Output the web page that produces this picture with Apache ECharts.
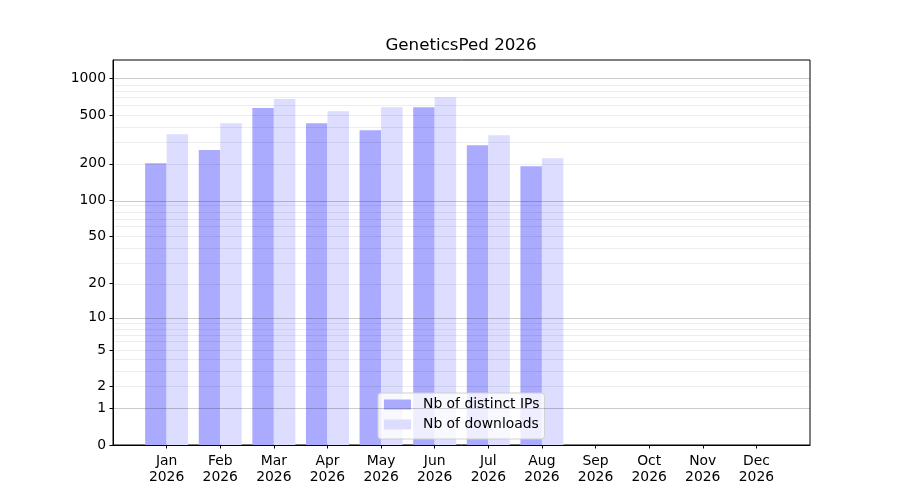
<!DOCTYPE html>
<html>
<head>
<meta charset="utf-8">
<script src="https://cdn.jsdelivr.net/npm/echarts@6/dist/echarts.min.js"></script>
<style>
  html, body { margin: 0; padding: 0; background: #fff; }
  #chart { width: 900px; height: 500px; }
</style>
</head>
<body>
<div id="chart"></div>
<script>
const months = ['Jan', 'Feb', 'Mar', 'Apr', 'May', 'Jun', 'Jul', 'Aug', 'Sep', 'Oct', 'Nov', 'Dec'];
const year = '2026';
const distinctIPs = [202, 259, 575, 431, 377, 583, 284, 191];
const downloads = [350, 431, 681, 540, 583, 704, 343, 222];
const yTicks = [0, 1, 2, 5, 10, 20, 50, 100, 200, 500, 1000];
const majorGrid = [1, 10, 100, 1000];
const minorGrid = [2, 3, 4, 5, 6, 7, 8, 9, 20, 30, 40, 50, 60, 70, 80, 90, 200, 300, 400, 500, 600, 700, 800, 900];

// axis is log10(1 + v)
const tf = v => Math.log10(1 + v);
const font = 'DejaVu Sans';

const gridLines = majorGrid.map(v => ({ yAxis: tf(v), lineStyle: { color: 'rgba(0,0,0,0.2)' } }))
    .concat(minorGrid.map(v => ({ yAxis: tf(v), lineStyle: { color: 'rgba(0,0,0,0.07)' } })));

const initChart = () => {
    const myChart = echarts.init(document.getElementById('chart'));
    myChart.setOption({
        animation: false,
        title: {
            text: 'GeneticsPed ' + year,
            left: 461, top: 37, textAlign: 'center', padding: 0,
            textStyle: { fontFamily: font, fontSize: 16.7, fontWeight: 'normal', color: '#000' }
        },
        grid: { left: 113, right: 90, top: 60, bottom: 55, show: true, borderColor: '#000', borderWidth: 1 },
        legend: {
            left: 378, top: 393, orient: 'vertical',
            padding: [4, 5, 7, 6], itemGap: 5, itemWidth: 27, itemHeight: 10,
            backgroundColor: 'rgba(255,255,255,0.8)', borderColor: '#d0d0d0', borderWidth: 1, borderRadius: 3,
            icon: 'rect',
            textStyle: { fontFamily: font, fontSize: 13.9, color: '#000', lineHeight: 15, padding: [0, 0, 0, 7] },
            data: ['Nb of distinct IPs', 'Nb of downloads']
        },
        xAxis: {
            type: 'value', min: 0, max: 13,
            axisLine: { show: true, onZero: false, lineStyle: { color: '#000' } },
            axisTick: { show: true, inside: false, length: 3.5, customValues: months.map((m, i) => i + 1), lineStyle: { color: '#000' } },
            axisLabel: {
                customValues: months.map((m, i) => i + 1),
                formatter: v => months[Math.round(v) - 1] + '\n' + year,
                margin: 9, fontFamily: font, fontSize: 13.9, color: '#000', lineHeight: 15.5
            },
            splitLine: { show: false }
        },
        yAxis: {
            type: 'value', min: 0, max: 3.153,
            axisLine: { show: true, lineStyle: { color: '#000' } },
            axisTick: { show: true, inside: false, length: 3.5, customValues: yTicks.map(tf), lineStyle: { color: '#000' } },
            axisLabel: {
                customValues: yTicks.map(tf),
                formatter: v => String(Math.round(Math.pow(10, v) - 1)),
                margin: 7, fontFamily: font, fontSize: 13.9, color: '#000'
            },
            splitLine: { show: false }
        },
        series: [
            {
                name: 'Nb of distinct IPs', type: 'bar', barWidth: 21.5, barGap: '0%',
                itemStyle: { color: '#aaaaff' },
                data: distinctIPs.map((v, i) => [i + 1, tf(v)]),
                markLine: { silent: true, symbol: 'none', label: { show: false }, lineStyle: { type: 'solid', width: 1 }, data: gridLines }
            },
            {
                name: 'Nb of downloads', type: 'bar', barWidth: 21.5, barGap: '0%',
                itemStyle: { color: '#ddddff' },
                data: downloads.map((v, i) => [i + 1, tf(v)])
            }
        ]
    });
};

window.addEventListener('load', initChart);
</script>
</body>
</html>
